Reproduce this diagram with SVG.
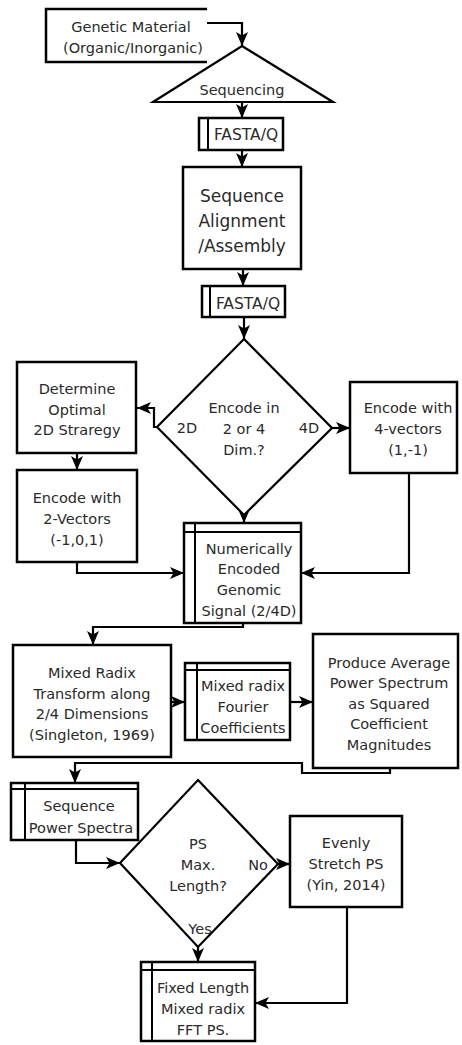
<svg xmlns="http://www.w3.org/2000/svg" width="462" height="1045" viewBox="0 0 462 1045">
<style>
.box{fill:#fff;stroke:#000;stroke-width:2.5}
.inner{fill:none;stroke:#000;stroke-width:2}
.shape{fill:#fff;stroke:#000;stroke-width:2.2}
.t{font-family:"DejaVu Sans","Liberation Sans",sans-serif;font-size:14.5px;fill:#2a2a2a;text-anchor:middle}
.big{font-size:17px}
.con{fill:none;stroke:#000;stroke-width:2.2;marker-end:url(#ah)}
</style>
<defs>
<marker id="ah" viewBox="0 0 14 12" refX="14" refY="6" markerWidth="14" markerHeight="12" markerUnits="userSpaceOnUse" orient="auto">
<path d="M0,0 L14,6 L0,12 L3.5,6 z" fill="#000"/>
</marker>
</defs>
<rect width="462" height="1045" fill="#fff"/>
<g id="connectors">
<path class="con" d="M207,23 H242 V46"/>
<path class="con" d="M242,102 V118"/>
<path class="con" d="M242,150 V167"/>
<path class="con" d="M243,269 V286"/>
<path class="con" d="M244,317 V339"/>
<path class="con" d="M157,427 H154 V408 H137"/>
<path class="con" d="M77,453 V470"/>
<path class="con" d="M332,428 H350"/>
<path class="con" d="M77,562 V573 H184"/>
<path class="con" d="M409,473 V573 H301"/>
<path class="con" d="M244,515 V523"/>
<path class="con" d="M243,623 V627 H93 V645"/>
<path class="con" d="M171,702 H185"/>
<path class="con" d="M290,702 H313"/>
<path class="con" d="M390,768 V773 H302 V763 H75 V783"/>
<path class="con" d="M76,840 V863 H120"/>
<path class="con" d="M278,864 H290"/>
<path class="con" d="M198,947 V962"/>
<path class="con" d="M347,907 V1003 H255"/>
</g>
<g id="genetic">
<path d="M207,9 H46 V62 H207" fill="#fff" stroke="#000" stroke-width="2.5"/>
<text class="t" x="131" y="32">Genetic Material</text>
<text class="t" x="133" y="53">(Organic/Inorganic)</text>
</g>
<g id="sequencing">
<path class="shape" d="M242,46 L333,102 L153,102 Z"/>
<text class="t" x="242" y="95">Sequencing</text>
</g>
<g id="fasta1">
<rect class="box" x="199" y="118" width="84" height="32"/>
<line class="inner" x1="208" y1="118" x2="208" y2="150"/>
<text class="t" x="246" y="140" style="font-size:15.5px">FASTA/Q</text>
</g>
<g id="alignment">
<rect class="box" x="183" y="167" width="118" height="102"/>
<text class="t big" x="242" y="202">Sequence</text>
<text class="t big" x="242" y="227">Alignment</text>
<text class="t big" x="242" y="252">/Assembly</text>
</g>
<g id="fasta2">
<rect class="box" x="202" y="286" width="83" height="31"/>
<line class="inner" x1="210" y1="286" x2="210" y2="317"/>
<text class="t" x="248" y="309" style="font-size:15.5px">FASTA/Q</text>
</g>
<g id="encode-dim">
<path class="shape" d="M244,339 L332,428 L244,515 L157,427 Z"/>
<text class="t" x="244" y="413">Encode in</text>
<text class="t" x="244" y="434">2 or 4</text>
<text class="t" x="244" y="455">Dim.?</text>
<text class="t" x="187" y="433">2D</text>
<text class="t" x="309" y="433">4D</text>
</g>
<g id="determine">
<rect class="box" x="17" y="362" width="119" height="91"/>
<text class="t" x="77" y="394">Determine</text>
<text class="t" x="77" y="415">Optimal</text>
<text class="t" x="77" y="435">2D Straregy</text>
</g>
<g id="encode2">
<rect class="box" x="17" y="470" width="120" height="92"/>
<text class="t" x="77" y="503">Encode with</text>
<text class="t" x="77" y="524">2-Vectors</text>
<text class="t" x="77" y="545">(-1,0,1)</text>
</g>
<g id="encode4">
<rect class="box" x="350" y="382" width="107" height="91"/>
<text class="t" x="408" y="413">Encode with</text>
<text class="t" x="408" y="434">4-vectors</text>
<text class="t" x="408" y="455">(1,-1)</text>
</g>
<g id="numerically">
<rect class="box" x="184" y="523" width="117" height="100"/>
<line class="inner" x1="195" y1="523" x2="195" y2="623"/>
<line class="inner" x1="184" y1="532" x2="301" y2="532"/>
<text class="t" x="249" y="554">Numerically</text>
<text class="t" x="249" y="574">Encoded</text>
<text class="t" x="249" y="595">Genomic</text>
<text class="t" x="249" y="616">Signal (2/4D)</text>
</g>
<g id="mixed-radix">
<rect class="box" x="13" y="645" width="158" height="112"/>
<text class="t" x="92" y="678">Mixed Radix</text>
<text class="t" x="92" y="699">Transform along</text>
<text class="t" x="92" y="719">2/4 Dimensions</text>
<text class="t" x="92" y="740">(Singleton, 1969)</text>
</g>
<g id="fourier">
<rect class="box" x="185" y="663" width="105" height="77"/>
<line class="inner" x1="197" y1="663" x2="197" y2="740"/>
<line class="inner" x1="185" y1="670" x2="290" y2="670"/>
<text class="t" x="243" y="691">Mixed radix</text>
<text class="t" x="243" y="712">Fourier</text>
<text class="t" x="243" y="733">Coefficients</text>
</g>
<g id="produce">
<rect class="box" x="313" y="634" width="145" height="134"/>
<text class="t" x="389" y="668">Produce Average</text>
<text class="t" x="389" y="688">Power Spectrum</text>
<text class="t" x="389" y="709">as Squared</text>
<text class="t" x="389" y="729">Coefficient</text>
<text class="t" x="389" y="750">Magnitudes</text>
</g>
<g id="power-spectra">
<rect class="box" x="11" y="783" width="127" height="57"/>
<line class="inner" x1="25" y1="783" x2="25" y2="840"/>
<line class="inner" x1="11" y1="789" x2="138" y2="789"/>
<text class="t" x="79" y="811">Sequence</text>
<text class="t" x="81" y="833">Power Spectra</text>
</g>
<g id="ps-max">
<path class="shape" d="M198,780 L278,864 L198,947 L120,863 Z"/>
<text class="t" x="198" y="849">PS</text>
<text class="t" x="198" y="870">Max.</text>
<text class="t" x="198" y="891">Length?</text>
<text class="t" x="258" y="870">No</text>
<text class="t" x="200" y="934">Yes</text>
</g>
<g id="evenly">
<rect class="box" x="290" y="816" width="112" height="91"/>
<text class="t" x="346" y="848">Evenly</text>
<text class="t" x="346" y="869">Stretch PS</text>
<text class="t" x="346" y="890">(Yin, 2014)</text>
</g>
<g id="fixed">
<rect class="box" x="141" y="962" width="114" height="79"/>
<line class="inner" x1="152" y1="962" x2="152" y2="1041"/>
<line class="inner" x1="141" y1="970" x2="255" y2="970"/>
<text class="t" x="203" y="993">Fixed Length</text>
<text class="t" x="203" y="1014">Mixed radix</text>
<text class="t" x="203" y="1035">FFT PS.</text>
</g>
</svg>
